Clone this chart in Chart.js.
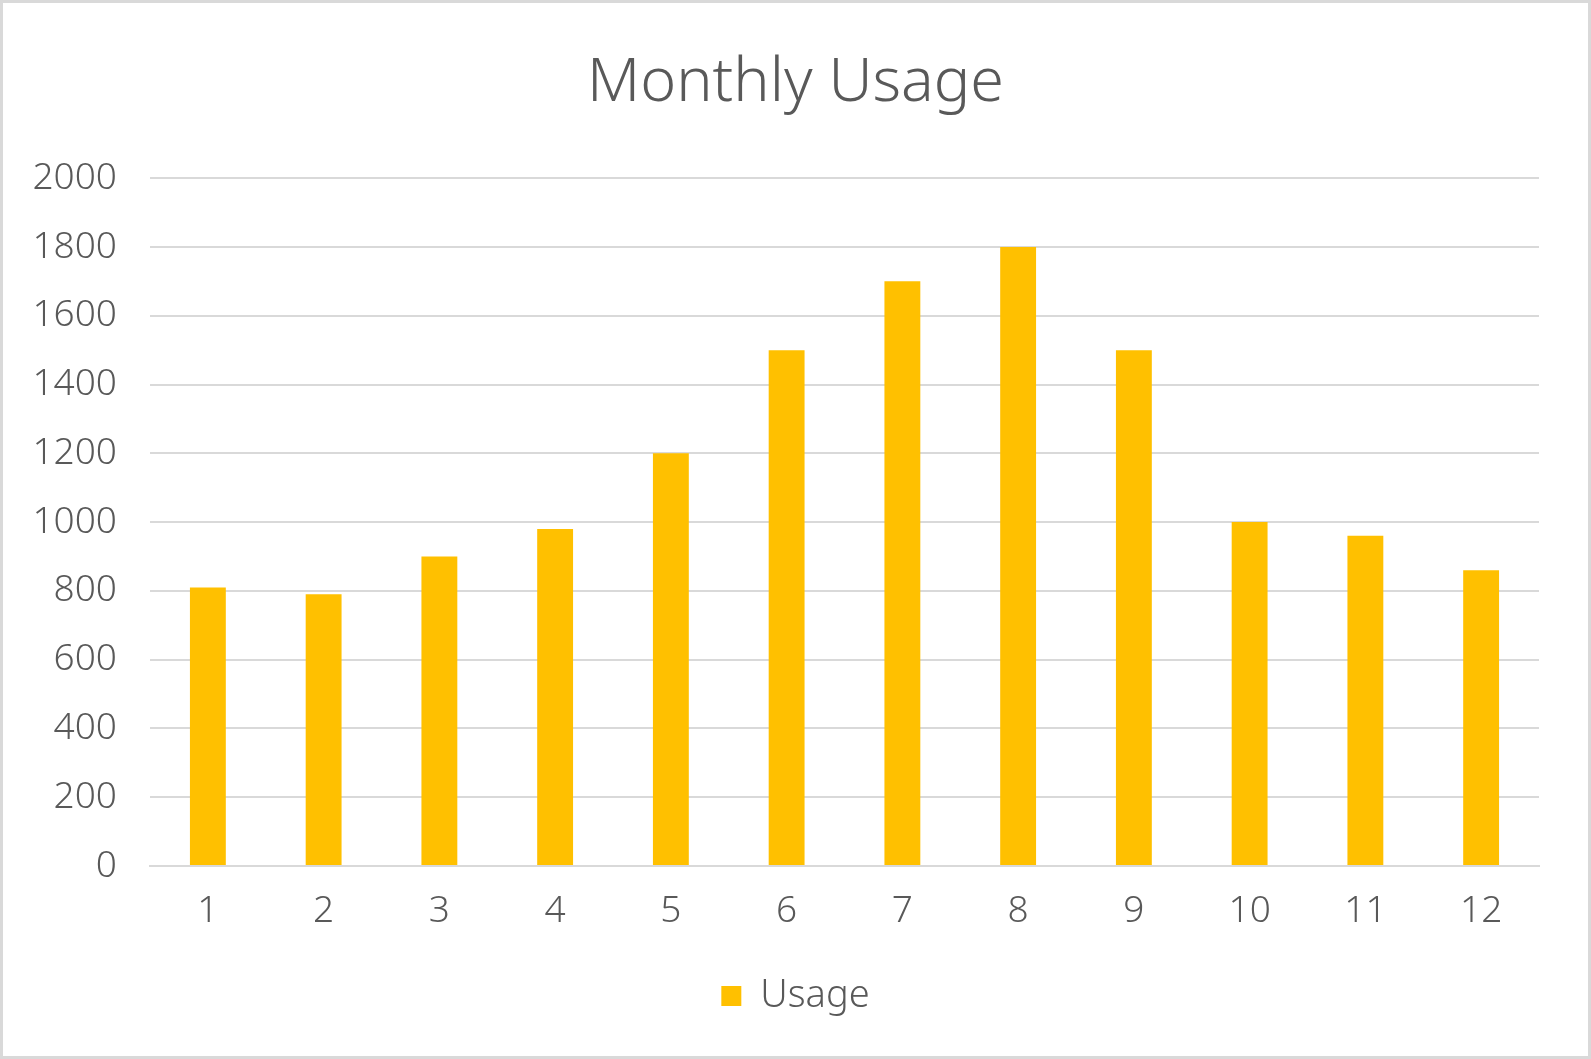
<!DOCTYPE html>
<html>
<head>
<meta charset="utf-8">
<script src="https://cdn.jsdelivr.net/npm/chart.js@4.4.0/dist/chart.umd.min.js"></script>
<style>
  html, body { margin: 0; padding: 0; background: #fff; }
  #wrap { width: 1591px; height: 1059px; box-sizing: border-box; border: 3px solid #d9d9d9; }
  canvas { display: block; }
</style>
</head>
<body>
<div id="wrap"><canvas id="myChart" width="1585" height="1053"></canvas></div>
<script>
const months = ['1', '2', '3', '4', '5', '6', '7', '8', '9', '10', '11', '12'];
const usage = [810, 790, 900, 980, 1200, 1500, 1700, 1800, 1500, 1000, 960, 860];
const yTicks = [0, 200, 400, 600, 800, 1000, 1200, 1400, 1600, 1800, 2000];

const textColor = '#595959';
const gridColor = '#d9d9d9';
const fontFamily = '"Noto Sans", "DejaVu Sans", sans-serif';

Chart.defaults.font.family = fontFamily;
Chart.defaults.font.weight = 300;
Chart.defaults.color = textColor;

new Chart(document.getElementById('myChart'), {
  type: 'bar',
  data: {
    labels: months,
    datasets: [{
      label: 'Usage',
      data: usage,
      backgroundColor: '#ffc000',
      borderWidth: 0,
      categoryPercentage: 1,
      barPercentage: 0.31,
    }],
  },
  options: {
    responsive: false,
    animation: false,
    layout: { padding: { left: 0, right: 0, top: 0, bottom: 31 } },
    plugins: {
      title: {
        display: true,
        text: 'Monthly Usage',
        color: textColor,
        font: { size: 61, weight: 300 },
        padding: { top: 44, bottom: 58 },
      },
      legend: {
        position: 'bottom',
        labels: {
          color: textColor,
          font: { size: 38, weight: 300 },
          boxWidth: 20,
          boxHeight: 20,
          padding: 10,
        },
      },
      tooltip: { enabled: false },
    },
    scales: {
      x: {
        afterFit: (scale) => { scale.height = 101; },
        grid: { display: false, drawTicks: false },
        border: { color: gridColor, width: 2 },
        ticks: { color: textColor, font: { size: 37, weight: 300 }, padding: 23, maxRotation: 0 },
      },
      y: {
        min: 0,
        max: 2000,
        afterFit: (scale) => { scale.width = 147; },
        afterBuildTicks: (scale) => { scale.ticks = yTicks.map(v => ({ value: v })); },
        grid: { color: gridColor, lineWidth: 2, drawTicks: false },
        border: { display: false },
        ticks: {
          color: textColor,
          font: { size: 37, weight: 300 },
          padding: 33,
          callback: (v) => String(v),
        },
      },
      // empty right axis: only reserves the right margin so title/legend stay centred on the canvas
      spacer: {
        type: 'linear',
        position: 'right',
        afterFit: (scale) => { scale.width = 49; },
        grid: { display: false, drawTicks: false },
        border: { display: false },
        ticks: { display: false },
      },
    },
  },
});
</script>
</body>
</html>
